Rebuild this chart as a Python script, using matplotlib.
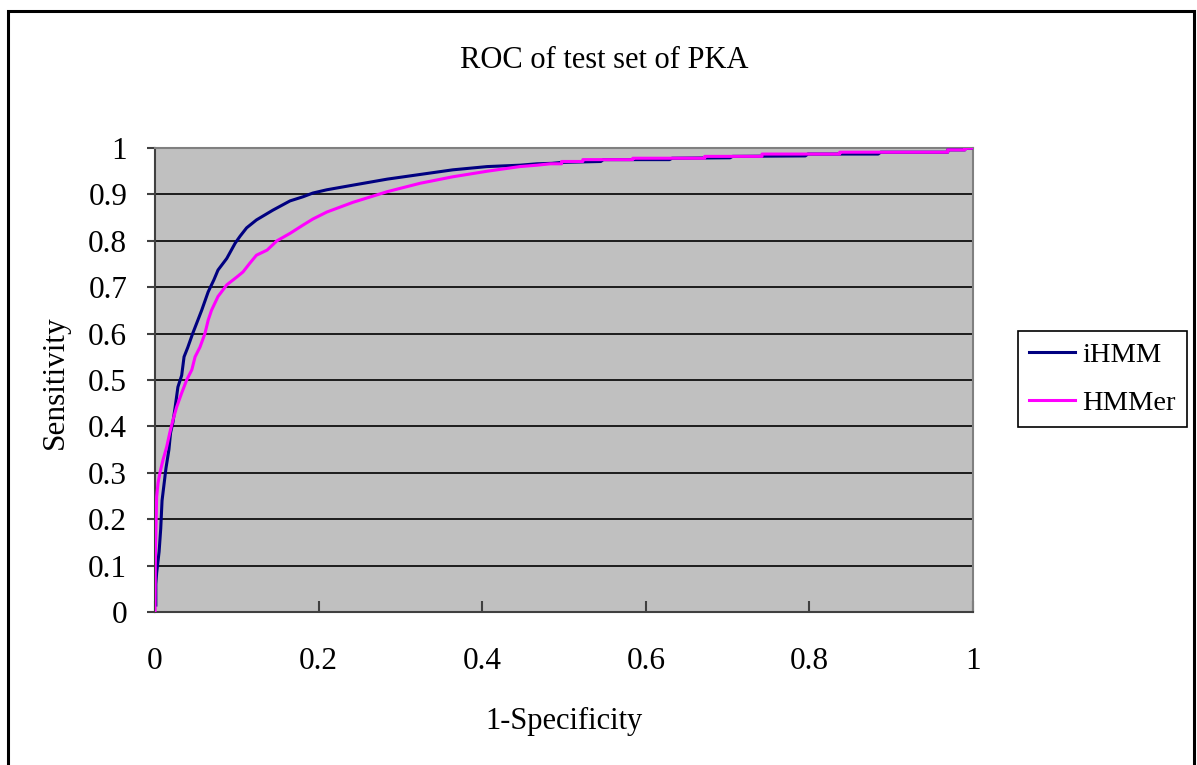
import numpy as np
import matplotlib
matplotlib.use('Agg')
import matplotlib.pyplot as plt
from matplotlib.patches import Rectangle

plt.rcParams['font.family'] = ['Liberation Serif', 'DejaVu Serif']

# ROC points (1-specificity, sensitivity)
ihmm_fpr = [0.001, 0.001, 0.002, 0.005, 0.007, 0.0086, 0.0134, 0.017, 0.019, 0.022,
            0.0245, 0.028, 0.0326, 0.0355, 0.040, 0.046, 0.0526, 0.057, 0.065, 0.072,
            0.077, 0.0877, 0.098, 0.104, 0.112, 0.124, 0.144, 0.165, 0.181, 0.193,
            0.21, 0.242, 0.284, 0.324, 0.364, 0.406, 0.446, 0.467, 0.485, 0.497,
            0.545, 0.548, 0.629, 0.632, 0.703, 0.706, 0.795, 0.798, 0.884, 0.887,
            0.969, 0.969, 0.99, 0.99, 1.0]
ihmm_tpr = [0.015, 0.06, 0.084, 0.13, 0.18, 0.24, 0.31, 0.35, 0.386, 0.41,
            0.44, 0.485, 0.51, 0.55, 0.57, 0.60, 0.63, 0.65, 0.69, 0.716,
            0.737, 0.762, 0.795, 0.81, 0.828, 0.845, 0.866, 0.886, 0.895, 0.903,
            0.91, 0.92, 0.933, 0.943, 0.953, 0.96, 0.963, 0.966, 0.967, 0.969,
            0.971, 0.975, 0.975, 0.978, 0.979, 0.982, 0.983, 0.987, 0.987, 0.991,
            0.991, 0.996, 0.996, 0.999, 1.0]

hmmer_fpr = [0.0, 0.0004, 0.002, 0.0037, 0.006, 0.0098, 0.0143, 0.018, 0.022, 0.0265,
             0.0326, 0.0387, 0.045, 0.049, 0.055, 0.061, 0.065, 0.069, 0.077, 0.0877,
             0.10, 0.1076, 0.116, 0.124, 0.137, 0.149, 0.165, 0.181, 0.193, 0.21,
             0.242, 0.284, 0.324, 0.364, 0.406, 0.446, 0.467, 0.483, 0.497, 0.497,
             0.523, 0.523, 0.584, 0.584, 0.672, 0.672, 0.742, 0.742, 0.837, 0.837,
             0.969, 0.969, 0.99, 0.99, 1.0]
hmmer_tpr = [0.0, 0.12, 0.248, 0.278, 0.30, 0.328, 0.356, 0.386, 0.414, 0.442,
             0.472, 0.50, 0.522, 0.55, 0.571, 0.60, 0.629, 0.65, 0.68, 0.705,
             0.722, 0.733, 0.752, 0.769, 0.78, 0.80, 0.816, 0.834, 0.847, 0.862,
             0.883, 0.906, 0.924, 0.938, 0.95, 0.96, 0.963, 0.966, 0.966, 0.971,
             0.971, 0.975, 0.975, 0.978, 0.978, 0.982, 0.982, 0.987, 0.987, 0.991,
             0.991, 0.996, 0.996, 0.999, 1.0]

xticks = [0, 0.2, 0.4, 0.6, 0.8, 1]
xticklabels = ['0', '0.2', '0.4', '0.6', '0.8', '1']
yticks = np.round(np.arange(0, 1.01, 0.1), 1)
yticklabels = ['0'] + ['%.1f' % v for v in yticks[1:-1]] + ['1']

fig = plt.figure(figsize=(11.97, 7.65), dpi=100)
ax = fig.add_axes([0.1295, 0.2, 0.6834, 0.6065])
ax.set_facecolor('#C0C0C0')

ax.plot(ihmm_fpr, ihmm_tpr, color='#000080', lw=2.2, label='iHMM', zorder=3)
ax.plot(hmmer_fpr, hmmer_tpr, color='#FF00FF', lw=2.2, label='HMMer', zorder=4)

ax.set_xlim(0, 1)
ax.set_ylim(0, 1)
ax.set_xticks(xticks)
ax.set_xticklabels(xticklabels)
ax.set_yticks(yticks)
ax.set_yticklabels(yticklabels)
ax.tick_params(axis='x', direction='in', length=8, width=1.5, pad=25,
               labelsize=22.5, color='#404040')
ax.tick_params(axis='y', direction='out', length=6, width=1.5, pad=14,
               labelsize=22.5, color='#404040')
ax.yaxis.grid(True, color='black', lw=1.2)
ax.set_axisbelow(True)
for side in ['left', 'bottom']:
    ax.spines[side].set_color('#404040')
    ax.spines[side].set_linewidth(1.5)
for side in ['top', 'right']:
    ax.spines[side].set_color('#808080')
    ax.spines[side].set_linewidth(1.5)

fig.text(604 / 1197, 1 - 61 / 765, 'ROC of test set of PKA', ha='center',
         va='center', fontsize=22)
fig.text(564 / 1197, 1 - 721 / 765, '1-Specificity', ha='center', va='center',
         fontsize=22)
fig.text(55 / 1197, 1 - 382 / 765, 'Sensitivity', ha='center', va='center',
         rotation=90, fontsize=22.5)

leg = fig.legend(loc='upper left', bbox_to_anchor=(1018 / 1197, 1 - 331 / 765),
                 borderaxespad=0, fontsize=20.5, fancybox=False, framealpha=1,
                 edgecolor='black', handlelength=1.6, handletextpad=0.25,
                 labelspacing=0.75, borderpad=0.4)
leg.get_frame().set_linewidth(1.2)

# outer chart border
fig.patches.append(Rectangle((8 / 1197, -0.02), (1194 - 8) / 1197, 0.02 + 1 - 11 / 765,
                             transform=fig.transFigure, fill=False,
                             edgecolor='black', lw=2.2))

fig.savefig('out.png', dpi=100)
